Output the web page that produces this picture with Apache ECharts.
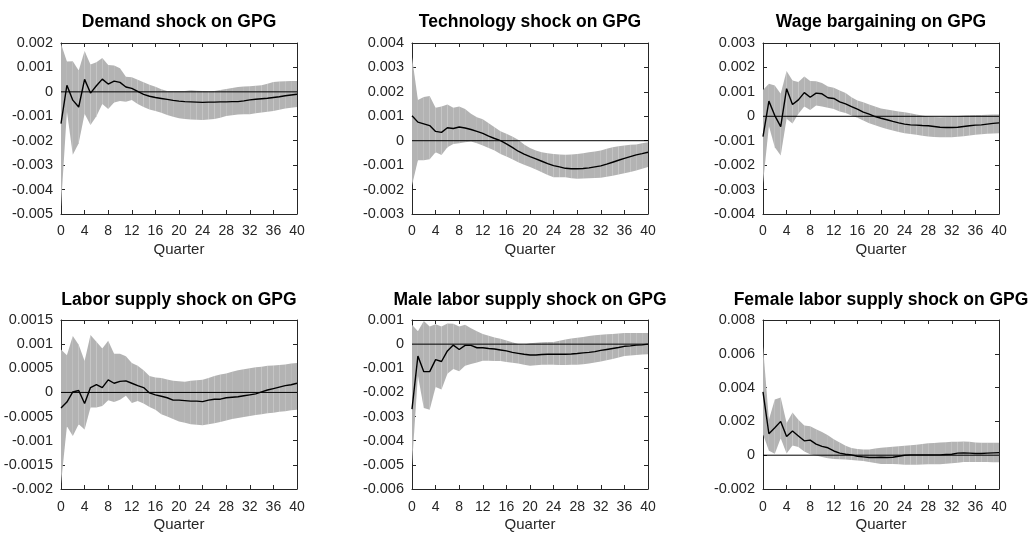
<!DOCTYPE html>
<html><head><meta charset="utf-8">
<script src="https://cdn.jsdelivr.net/npm/echarts@6/dist/echarts.min.js"></script>
<style>html,body{margin:0;padding:0;background:#fff}#c{width:1028px;height:533px}</style>
</head><body><div id="c"></div>
<script>
// ---------- DATA ----------
const quarters = [0,1,2,3,4,5,6,7,8,9,10,11,12,13,14,15,16,17,18,19,20,21,22,23,24,25,26,27,28,29,30,31,32,33,34,35,36,37,38,39,40];
const xTickLabels = [0,4,8,12,16,20,24,28,32,36,40];
const xAxisTitle = 'Quarter';
const panelTitles = ['Demand shock on GPG','Technology shock on GPG','Wage bargaining on GPG','Labor supply shock on GPG','Male labor supply shock on GPG','Female labor supply shock on GPG'];

const demandYTicks = [-0.005,-0.004,-0.003,-0.002,-0.001,0,0.001,0.002];
const demandMean = [-0.0013,0.00027,-0.00034,-0.00062,0.00051,-0.00005,0.00025,0.00052,0.00032,0.00044,0.00039,0.0002,0.00014,0.00002,-0.0001,-0.00018,-0.00023,-0.00027,-0.00031,-0.00035,-0.00038,-0.0004,-0.00041,-0.00042,-0.00043,-0.00042,-0.00042,-0.00041,-0.00041,-0.0004,-0.0004,-0.00037,-0.00033,-0.0003,-0.00028,-0.00026,-0.00023,-0.0002,-0.00016,-0.00013,-0.0001];
const demandUpper = [0.00197,0.00124,0.00125,0.00087,0.00167,0.00112,0.00121,0.00139,0.0011,0.00108,0.00097,0.00062,0.0006,0.0005,0.00039,0.00029,0.00021,0.00011,0.00004,0.00003,0.00003,0.00004,0.00007,0.00005,0.00003,0.00002,0.00004,0.00008,0.00012,0.00016,0.0002,0.00022,0.00023,0.00025,0.00027,0.00033,0.0004,0.00042,0.00043,0.00044,0.00044];
const demandLower = [-0.0047,-0.0008,-0.00257,-0.0021,-0.0009,-0.00136,-0.001,-0.0005,-0.0007,-0.00044,-0.00037,-0.0004,-0.00033,-0.0005,-0.00062,-0.00072,-0.00078,-0.00086,-0.00095,-0.00102,-0.00108,-0.00111,-0.00113,-0.00114,-0.00115,-0.00113,-0.00111,-0.00106,-0.00099,-0.00096,-0.00093,-0.00092,-0.00092,-0.00088,-0.00084,-0.00081,-0.00078,-0.00073,-0.00068,-0.00065,-0.00062];

const techYTicks = [-0.003,-0.002,-0.001,0,0.001,0.002,0.003,0.004];
const techMean = [0.00102,0.00076,0.00069,0.00062,0.00038,0.00034,0.00053,0.0005,0.00056,0.00052,0.00046,0.00038,0.0003,0.00019,0.00009,0,-0.00013,-0.00027,-0.00043,-0.00055,-0.00065,-0.00074,-0.00084,-0.00094,-0.00102,-0.00107,-0.00113,-0.00115,-0.00115,-0.00114,-0.00111,-0.00107,-0.00103,-0.00096,-0.00088,-0.0008,-0.00072,-0.00065,-0.00058,-0.00053,-0.00047];
const techUpper = [0.00343,0.00167,0.00179,0.00183,0.00135,0.0014,0.00148,0.00135,0.0014,0.0013,0.0011,0.00096,0.00088,0.00072,0.00055,0.00039,0.00028,0.00017,0.00004,-0.00015,-0.0003,-0.0004,-0.00047,-0.00051,-0.00054,-0.00056,-0.00057,-0.00056,-0.00054,-0.00051,-0.00047,-0.00044,-0.0004,-0.00033,-0.00027,-0.00023,-0.0002,-0.00017,-0.00015,-0.0001,-0.00006];
const techLower = [-0.00183,-0.0008,-0.0008,-0.00076,-0.00047,-0.00058,-0.00027,-0.00013,-0.0001,-0.00006,-0.00003,-0.0001,-0.0002,-0.0003,-0.0004,-0.00054,-0.00065,-0.00076,-0.00088,-0.00098,-0.00108,-0.00118,-0.00129,-0.0014,-0.0015,-0.0015,-0.0015,-0.00154,-0.00156,-0.00155,-0.00154,-0.00153,-0.00152,-0.00148,-0.00143,-0.00138,-0.00133,-0.00128,-0.00122,-0.00115,-0.00108];

const wageYTicks = [-0.004,-0.003,-0.002,-0.001,0,0.001,0.002,0.003];
const wageMean = [-0.00083,0.00062,0.00003,-0.00042,0.00113,0.00048,0.00067,0.00097,0.00078,0.00095,0.00092,0.00076,0.00073,0.00059,0.00051,0.0004,0.00029,0.00017,0.00009,-0.00001,-0.00008,-0.00014,-0.00021,-0.00027,-0.00032,-0.00035,-0.00036,-0.00038,-0.00039,-0.00042,-0.00045,-0.00046,-0.00046,-0.00045,-0.00042,-0.00039,-0.00036,-0.00035,-0.00032,-0.00029,-0.00027];
const wageUpper = [0.00108,0.00133,0.00126,0.00092,0.00185,0.00147,0.0014,0.00163,0.00144,0.00143,0.00136,0.00122,0.00117,0.00106,0.00095,0.00078,0.00065,0.00057,0.00048,0.0004,0.00032,0.00028,0.00024,0.0002,0.00017,0.00012,0.00007,0.00003,-0.00001,-0.00003,-0.00004,-0.00003,-0.00001,0.00001,0.00003,0.00004,0.00005,0.00005,0.00006,0.00007,0.00007];
const wageLower = [-0.00275,-0.0004,-0.00127,-0.00161,-0.0001,-0.0003,0.0001,0.0004,0.00026,0.00044,0.0004,0.00035,0.0003,0.0002,0.00013,0.00003,-0.00006,-0.00017,-0.00028,-0.00037,-0.00045,-0.00052,-0.00058,-0.00064,-0.00069,-0.00073,-0.00076,-0.0008,-0.00083,-0.00085,-0.00086,-0.00086,-0.00086,-0.00084,-0.00082,-0.00079,-0.00076,-0.00074,-0.00072,-0.0007,-0.00069];

const laborYTicks = [-0.002,-0.0015,-0.001,-0.0005,0,0.0005,0.001,0.0015];
const laborMean = [-0.00032,-0.0002,0.00001,0.00004,-0.00023,0.0001,0.00016,0.0001,0.00026,0.00019,0.00023,0.00024,0.00019,0.00014,0.0001,-0.00001,-0.00005,-0.00008,-0.00011,-0.00016,-0.00016,-0.00017,-0.00018,-0.00018,-0.00019,-0.00016,-0.00014,-0.00014,-0.00011,-0.0001,-0.00009,-0.00007,-0.00005,-0.00003,0.00001,0.00005,0.00008,0.00011,0.00014,0.00016,0.00019];
const laborUpper = [0.00089,0.00077,0.00117,0.00099,0.00065,0.00119,0.00105,0.00091,0.00107,0.0008,0.0008,0.00075,0.00061,0.00055,0.00046,0.00034,0.00031,0.0003,0.00027,0.00024,0.00023,0.00022,0.00024,0.00025,0.00026,0.0003,0.00034,0.00037,0.00039,0.00043,0.00046,0.00048,0.0005,0.00052,0.00053,0.00055,0.00056,0.00057,0.00058,0.0006,0.00061];
const laborLower = [-0.00189,-0.0007,-0.0009,-0.00066,-0.00077,-0.00031,-0.00031,-0.00028,-0.00016,-0.0002,-0.00015,-0.00007,-0.00022,-0.00018,-0.00023,-0.0003,-0.00036,-0.00045,-0.0005,-0.00055,-0.0006,-0.00063,-0.00066,-0.00067,-0.00068,-0.00066,-0.00064,-0.00061,-0.00058,-0.00055,-0.00053,-0.00051,-0.00049,-0.00047,-0.00045,-0.00043,-0.00042,-0.0004,-0.00039,-0.00037,-0.00036];

const maleYTicks = [-0.006,-0.005,-0.004,-0.003,-0.002,-0.001,0,0.001];
const maleMean = [-0.00269,-0.00049,-0.00114,-0.00114,-0.00064,-0.00072,-0.00028,-0.00004,-0.00022,-0.00005,-0.00005,-0.00015,-0.00015,-0.00018,-0.0002,-0.00024,-0.00028,-0.00034,-0.00038,-0.00042,-0.00045,-0.00045,-0.00043,-0.00042,-0.00042,-0.00042,-0.00042,-0.00041,-0.00039,-0.00036,-0.00034,-0.00031,-0.00026,-0.00022,-0.00018,-0.00014,-0.00009,-0.00007,-0.00004,-0.00003,0];
const maleUpper = [0.0008,0.00053,0.00096,0.00073,0.00082,0.00073,0.00086,0.00084,0.00073,0.0008,0.00066,0.00053,0.00042,0.00035,0.00028,0.00022,0.00015,0.00008,0.00001,-0.00001,0.00004,0.00006,0.00008,0.00009,0.00009,0.00014,0.00019,0.00023,0.00026,0.0003,0.00034,0.00037,0.00039,0.00041,0.00042,0.00044,0.00046,0.00046,0.00046,0.00046,0.00046];
const maleLower = [-0.005,-0.0013,-0.00265,-0.00272,-0.00177,-0.00188,-0.00123,-0.00103,-0.00112,-0.00089,-0.00082,-0.00076,-0.00069,-0.00069,-0.0007,-0.0007,-0.00074,-0.00077,-0.0008,-0.00085,-0.00089,-0.00087,-0.00085,-0.00085,-0.00085,-0.00086,-0.00086,-0.00085,-0.00085,-0.00083,-0.0008,-0.00076,-0.00072,-0.00067,-0.00062,-0.00055,-0.00049,-0.00047,-0.00045,-0.00043,-0.00042];

const femaleYTicks = [-0.002,0,0.002,0.004,0.006,0.008];
const femaleMean = [0.00375,0.00127,0.00162,0.002,0.0011,0.00143,0.00114,0.00085,0.00089,0.00066,0.00052,0.00044,0.00025,0.00012,0.00006,0.00002,-0.00006,-0.0001,-0.00014,-0.00014,-0.00012,-0.00014,-0.00012,-0.00006,0,0.00002,0.00002,0.00002,0.00002,0.00002,0.00002,0.00004,0.00006,0.00012,0.00014,0.00012,0.0001,0.0001,0.00012,0.00014,0.00015];
const femaleUpper = [0.00645,0.0021,0.0033,0.00342,0.00191,0.00253,0.0021,0.00176,0.00172,0.00153,0.00137,0.00118,0.00095,0.00075,0.00056,0.00042,0.00037,0.00033,0.00033,0.0004,0.00044,0.00047,0.0005,0.00053,0.00056,0.00059,0.00062,0.00066,0.0007,0.00072,0.00075,0.00077,0.00079,0.0008,0.00081,0.00079,0.00075,0.00074,0.00073,0.00073,0.00073];
const femaleLower = [0.00124,0.00027,0.00008,0.001,0.0001,0.00057,0.00048,0.00022,0.00005,-0.00002,-0.0001,-0.00018,-0.00022,-0.00024,-0.00025,-0.00028,-0.00031,-0.00035,-0.0004,-0.00046,-0.00052,-0.00052,-0.00052,-0.00054,-0.00056,-0.00056,-0.00056,-0.00055,-0.00054,-0.00054,-0.00054,-0.00051,-0.00048,-0.00044,-0.0004,-0.0004,-0.0004,-0.0004,-0.0004,-0.00041,-0.00042];

// ---------- LAYOUT ----------
const panels = [
  {mean: demandMean, upper: demandUpper, lower: demandLower, yTicks: demandYTicks},
  {mean: techMean, upper: techUpper, lower: techLower, yTicks: techYTicks},
  {mean: wageMean, upper: wageUpper, lower: wageLower, yTicks: wageYTicks},
  {mean: laborMean, upper: laborUpper, lower: laborLower, yTicks: laborYTicks},
  {mean: maleMean, upper: maleUpper, lower: maleLower, yTicks: maleYTicks},
  {mean: femaleMean, upper: femaleUpper, lower: femaleLower, yTicks: femaleYTicks}
];
const gridLefts = [61, 412, 763];
const gridTops = [43, 320];
const gridW = 236, gridHs = [171, 172];
const titleY = [22.5, 300];

const AX = '#262626';
const FONT = '"Liberation Sans", Arial, Helvetica, sans-serif';
const BAND = '#b3b3b3';
const fmt = v => { const r = Math.round(v * 1e6) / 1e6; return r === 0 ? '0' : String(r); };

// band drawn as one quad per quarter step (like the original patch), via the axes' scales
function bandItem(params, api) {
  const p0 = api.coord([api.value(0), api.value(1)]);
  const p1 = api.coord([api.value(0), api.value(2)]);
  const p2 = api.coord([api.value(3), api.value(5)]);
  const p3 = api.coord([api.value(3), api.value(4)]);
  return {type: 'polygon', shape: {points: [p0, p1, p2, p3]},
    style: {fill: BAND, stroke: null}, silent: true};
}

const grids = [], xAxes = [], yAxes = [], series = [], titles = [];
panels.forEach((p, i) => {
  const row = Math.floor(i / 3);
  const left = gridLefts[i % 3], top = gridTops[row];
  grids.push({left: left, top: top, width: gridW, height: gridHs[row], containLabel: false});
  titles.push({text: panelTitles[i], left: left + gridW / 2, top: titleY[row],
    textAlign: 'center', textVerticalAlign: 'middle', padding: 0,
    textStyle: {fontFamily: FONT, fontSize: 17.5, fontWeight: 'bold', color: '#000'}});
  const yMin = p.yTicks[0], yMax = p.yTicks[p.yTicks.length - 1], yInt = p.yTicks[1] - p.yTicks[0];
  const xMin = xTickLabels[0], xMax = xTickLabels[xTickLabels.length - 1], xInt = xTickLabels[1] - xTickLabels[0];
  const line = {show: true, onZero: false, lineStyle: {color: AX, width: 1}};
  const tick = {show: true, inside: true, length: 4, lineStyle: {color: AX, width: 1}};
  xAxes.push({gridIndex: i, type: 'value', position: 'bottom', min: xMin, max: xMax, interval: xInt,
    axisLine: line, axisTick: tick, splitLine: {show: false},
    axisLabel: {margin: row === 0 ? 10 : 11, color: AX, fontFamily: FONT, fontSize: 14},
    name: xAxisTitle, nameLocation: 'middle', nameGap: 28,
    nameTextStyle: {color: AX, fontFamily: FONT, fontSize: 15}});
  xAxes.push({gridIndex: i, type: 'value', position: 'top', min: xMin, max: xMax, interval: xInt,
    axisLine: line, axisTick: tick, splitLine: {show: false}, axisLabel: {show: false}});
  yAxes.push({gridIndex: i, type: 'value', position: 'left', min: yMin, max: yMax, interval: yInt,
    axisLine: line, axisTick: tick, splitLine: {show: false},
    axisLabel: {margin: 8, color: AX, fontFamily: FONT, fontSize: 14.5, formatter: fmt}});
  yAxes.push({gridIndex: i, type: 'value', position: 'right', min: yMin, max: yMax, interval: yInt,
    axisLine: line, axisTick: tick, splitLine: {show: false}, axisLabel: {show: false}});
  const xi = 2 * i, yi = 2 * i;
  const bandData = quarters.slice(0, -1).map((q, k) =>
    [q, p.lower[k], p.upper[k], quarters[k + 1], p.lower[k + 1], p.upper[k + 1]]);
  series.push({type: 'custom', xAxisIndex: xi, yAxisIndex: yi, renderItem: bandItem,
    data: bandData, encode: {x: [0, 3], y: [1, 2, 4, 5]}, silent: true, z: 1, clip: true});
  series.push({type: 'line', xAxisIndex: xi, yAxisIndex: yi,
    data: [[xMin, 0], [xMax, 0]], symbol: 'none', silent: true,
    lineStyle: {color: '#000', width: 1}, z: 2});
  series.push({type: 'line', xAxisIndex: xi, yAxisIndex: yi,
    data: quarters.map((q, k) => [q, p.mean[k]]), symbol: 'none', silent: true,
    lineStyle: {color: '#000', width: 1.4}, z: 3});
});

const chart = echarts.init(document.getElementById('c'), null, {renderer: 'canvas'});
chart.setOption({animation: false, backgroundColor: '#fff', title: titles,
  grid: grids, xAxis: xAxes, yAxis: yAxes, series: series});
</script></body></html>
